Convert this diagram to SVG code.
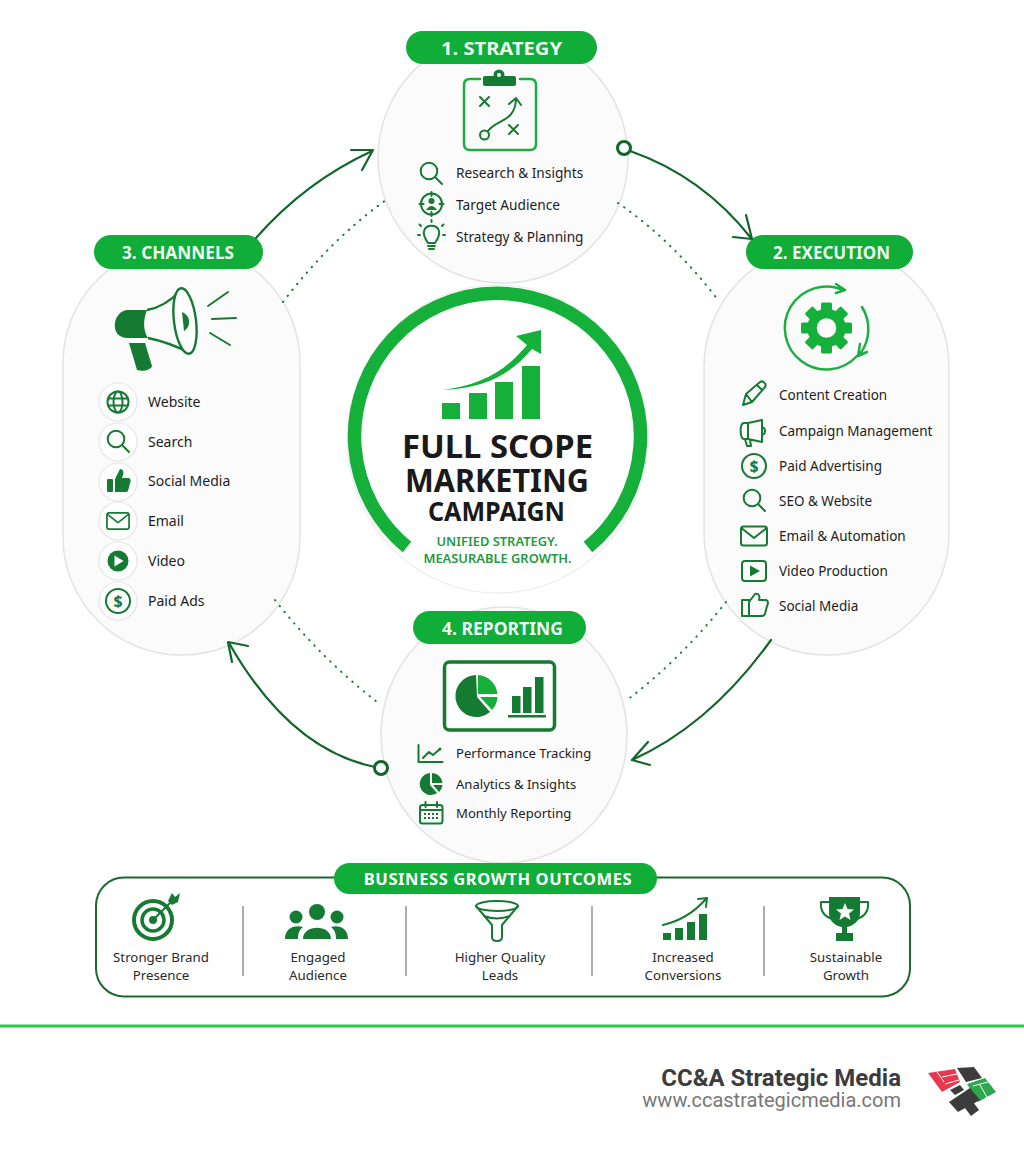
<svg xmlns="http://www.w3.org/2000/svg" width="1024" height="1154" viewBox="0 0 1024 1154">
<style>
text{font-family:"Noto Sans","Liberation Sans",sans-serif;fill:#1d1d1d}
.item{font-size:13.5px}
.st{font-size:13.7px}
.rep{font-size:13.1px}
.ch{font-size:14px}
.out{font-size:13.3px;text-anchor:middle;fill:#2a2a2a}
.pilltxt{font-size:18.5px;font-weight:700;fill:#fff;text-anchor:middle;fill-opacity:.95}
.pill{fill:#10ae38}
.card{fill:#fbfbfb;stroke:#e3e3e3;stroke-width:1.5}
.d{fill:none;stroke:#157a32;stroke-width:2;stroke-linecap:round;stroke-linejoin:round}
.b{fill:none;stroke:#1cae40;stroke-width:2.5;stroke-linecap:round;stroke-linejoin:round}
.df{fill:#157a32}
.bf{fill:#14b03a}
.ic{fill:#fff;stroke:#e6e6e6;stroke-width:1.2}
.conn{fill:none;stroke:#11662b;stroke-width:2.2;stroke-linecap:round;stroke-linejoin:round}
.dot{fill:none;stroke:#1c7a36;stroke-width:2;stroke-linecap:round;stroke-dasharray:.5 7}
.ttl{font-weight:700;text-anchor:middle;fill:#1a1a1a}
.tag{font-size:12.9px;font-weight:600;text-anchor:middle;fill:#1f9a3c}
.sep{stroke:#8a8a8a;stroke-width:1.4}
.lg{fill:#3c3c3c}
</style>
<defs>
<g id="mag"><circle cx="-2" cy="-2" r="8.3" class="d"/><path d="M4 4L11 11" class="d" stroke-width="3"/></g>
<g id="env"><rect x="-13" y="-9.5" width="26" height="19" rx="2.5" class="d"/><path d="M-12-7.5L0 2L12-7.5" class="d"/></g>
<g id="dol"><circle r="12" class="d"/><text y="5.5" text-anchor="middle" style="font-size:16px;font-weight:700;fill:#157a32">$</text></g>
<g id="thumb"><rect x="-11" y="-3" width="6" height="13" rx="1" class="df"/><path d="M-3-3L2-13C5-13 6-10 5-7L4-4H11C13-3 13 0 12 1L10 9C9 10 8 10 7 10H-3Z" class="df"/></g>
<g id="gearT"><rect x="-5.5" y="-25.5" width="11" height="12" rx="1.5" class="bf"/></g>
</defs>
<rect width="1024" height="1154" fill="#fff"/>

<g id="node-strategy">
<circle class="card" cx="503" cy="158" r="125"/>
<rect class="pill" x="406" y="31" width="191" height="33" rx="16.5"/>
<text class="pilltxt" x="501.500" y="55" textLength="121" lengthAdjust="spacingAndGlyphs">1. STRATEGY</text>
<path class="b" d="M480 79H470Q464 79 464 85V144Q464 150 470 150H530Q536 150 536 144V85Q536 79 530 79H520"/>
<rect class="df" x="483" y="76" width="33" height="10" rx="2"/><circle class="df" cx="499" cy="75" r="5.5"/><circle cx="499" cy="75" r="2" fill="#fff"/>
<path class="d" d="M480 97L489 106M489 97L480 106M509 125L518 134M518 125L509 134" stroke-width="2.8"/>
<circle class="d" cx="484.500" cy="135" r="4.500" stroke-width="2.400"/>
<path class="d" d="M488 131C496 119 515 123 516 99M509 104L516 98L521 105" stroke-width="2.400"/>
<use href="#mag" x="431" y="173"/>
<text class="st" x="456" y="178">Research &amp; Insights</text>
<circle class="d" cx="431.500" cy="204" r="10.500"/><path class="d" d="M431.500 192V196M431.500 212V216M419.500 204H423.500M439.500 204H443.500"/><circle class="df" cx="431.500" cy="201" r="3"/><path class="df" d="M426 210Q431.500 202 437 210Z"/>
<text class="st" x="456" y="210">Target Audience</text>
<path class="d" d="M428 243C424 237 423 234 424 231C426 224 437 224 439 231C440 234 439 237 435 243ZM428 246H435M429 249H434"/>
<path class="d" d="M431.500 222V220M421 226L419.500 224.500M442 226L443.500 224.500M418 235H420M443 235H445" stroke-width="1.600"/>
<text class="st" x="456" y="242">Strategy &amp; Planning</text>
</g>

<g id="node-execution">
<rect class="card" x="704" y="245" width="245" height="410" rx="122"/>
<rect class="pill" x="746" y="235" width="167" height="34" rx="17"/>
<text class="pilltxt" x="831.500" y="259" textLength="117" lengthAdjust="spacingAndGlyphs">2. EXECUTION</text>
<path class="b" d="M857 356A41.500 41.500 0 1 1 844 290.500M836 284L845 290L836 293" stroke-width="2"/>
<path class="b" d="M862 307A41.500 41.500 0 0 1 860 354M860 344L858 356L867 352" stroke-width="2"/>
<g transform="translate(826.500 328)">
<use href="#gearT"/><use href="#gearT" transform="rotate(45)"/><use href="#gearT" transform="rotate(90)"/><use href="#gearT" transform="rotate(135)"/><use href="#gearT" transform="rotate(180)"/><use href="#gearT" transform="rotate(225)"/><use href="#gearT" transform="rotate(270)"/><use href="#gearT" transform="rotate(315)"/>
<circle r="14.500" fill="none" stroke="#14b03a" stroke-width="9.500"/>
</g>
<path class="d" d="M743 405L746 394L760 382C763 380 767 384 765 387L752 402ZM746 394L752 402M757 385L762 390"/>
<text class="item" x="779" y="400">Content Creation</text>
<path class="d" d="M748 423H744C739 423 740 439 744 439H748ZM748 423L762 420V442L748 439M762 427C766 428 766 434 762 435M745 439L747 446H751L750 440"/>
<text class="item" x="779" y="436">Campaign Management</text>
<use href="#dol" x="754" y="466"/>
<text class="item" x="779" y="471">Paid Advertising</text>
<use href="#mag" x="754" y="500"/>
<text class="item" x="779" y="506">SEO &amp; Website</text>
<use href="#env" x="754" y="536"/>
<text class="item" x="779" y="541">Email &amp; Automation</text>
<rect class="d" x="742" y="561" width="24" height="20" rx="3"/><path class="df" d="M750 565.500L760 571L750 576.500Z"/>
<text class="item" x="779" y="576">Video Production</text>
<path class="d" d="M742 600H749V616H742ZM749 602L755 594C759 593 760 596 759 600H766C769 601 768 604 767 606L765 614C764 616 762 616 761 616H749"/>
<text class="item" x="779" y="611">Social Media</text>
</g>

<g id="node-reporting">
<ellipse class="card" cx="504" cy="735" rx="123" ry="128"/>
<rect class="pill" x="413" y="611" width="173" height="33" rx="16.500"/>
<text class="pilltxt" x="502.500" y="635" textLength="121" lengthAdjust="spacingAndGlyphs">4. REPORTING</text>
<rect x="444.500" y="662" width="110" height="68" rx="5" fill="#fff" stroke="#157a32" stroke-width="3.500"/>
<path class="df" d="M476 675A21 21 0 1 0 490 712L477 697Z"/>
<path class="bf" d="M478 675A21 21 0 0 1 497.500 694H478Z"/>
<path class="bf" d="M480 697H497.500A21 21 0 0 1 492 710Z"/>
<rect class="df" x="512" y="696" width="8.500" height="17"/><rect class="df" x="523" y="687" width="8.500" height="26"/><rect class="df" x="535" y="677" width="8.500" height="36"/>
<rect class="df" x="508" y="715" width="38" height="2.500"/>
<path class="d" d="M418.500 745V762H442.500M423 758L429 752L433 755L440 749" stroke-width="1.800"/><circle class="df" cx="440" cy="749" r="1.500"/>
<path class="df" d="M430 773A11 11 0 1 0 437 793L430 785Z"/><path class="df" d="M432 773A11 11 0 0 1 442.500 783H432Z"/><path class="df" d="M433 785H442.500A11 11 0 0 1 439 792Z"/>
<text class="rep" x="456" y="758">Performance Tracking</text>
<text class="rep" x="456" y="789">Analytics &amp; Insights</text>
<rect class="d" x="420" y="805" width="22.500" height="18.500" rx="2.500"/><path class="d" d="M420 810H442M425.500 802V807M437 802V807"/>
<path stroke="#157a32" stroke-width="2" stroke-dasharray="2 2" d="M424 814H439M424 818H439"/>
<text class="rep" x="456" y="818">Monthly Reporting</text>
</g>

<g id="node-channels">
<rect class="card" x="63" y="245" width="237" height="410" rx="118"/>
<rect class="pill" x="94" y="235" width="169" height="34" rx="17"/>
<text class="pilltxt" x="178" y="259" textLength="112" lengthAdjust="spacingAndGlyphs">3. CHANNELS</text>
<path class="df" d="M147 310H128C113 310 108 338 128 338H148C143 330 143 320 147 310Z"/>
<path class="df" d="M129 343H145L152 366C151 370 143 372 137 370Z"/>
<path fill="none" stroke="#157a32" stroke-width="2.400" d="M147 310Q165 307 181 290M148 338Q168 342 190 353"/>
<ellipse cx="185" cy="321" rx="11" ry="33" transform="rotate(-7 185 321)" fill="#fff" stroke="#157a32" stroke-width="2.400"/>
<path class="df" d="M182 312C190 315 192 326 184 331Z"/>
<path class="d" d="M208 306L228 292M212 319L236 318M210 333L230 345" stroke-width="3"/>
<g id="c-web"><circle class="ic" cx="118" cy="402" r="19"/><circle class="d" cx="118" cy="402" r="10.500"/><ellipse class="d" cx="118" cy="402" rx="4.500" ry="10.500" stroke-width="1.500"/><path class="d" d="M108 398.500H128M108 405.500H128" stroke-width="1.500"/></g>
<text class="ch" x="148" y="407">Website</text>
<circle class="ic" cx="118" cy="442" r="19"/><use href="#mag" x="118" y="441"/>
<text class="ch" x="148" y="447">Search</text>
<circle class="ic" cx="118" cy="482" r="19"/><use href="#thumb" x="118" y="482"/>
<text class="ch" x="148" y="486">Social Media</text>
<circle class="ic" cx="118" cy="521" r="19"/><g transform="translate(118 521) scale(.85)"><use href="#env"/></g>
<text class="ch" x="148" y="526">Email</text>
<circle class="ic" cx="118" cy="561" r="19"/><circle class="df" cx="118" cy="561" r="10.500"/><path d="M114.500 555.500L123.500 561L114.500 566.500Z" fill="#fff"/>
<text class="ch" x="148" y="566">Video</text>
<circle class="ic" cx="118" cy="601" r="19"/><use href="#dol" x="118" y="601"/>
<text class="ch" x="148" y="606">Paid Ads</text>
</g>

<g id="connectors">
<path class="dot" d="M283 302Q330 240 386 200"/>
<path class="dot" d="M618 203Q672 240 718 300"/>
<path class="dot" d="M726 602Q680 660 627 700"/>
<path class="dot" d="M275 600Q322 660 381 705"/>
<path class="conn" d="M630 151Q702 176 751 238"/>
<path class="conn" d="M733 237L752 239L746 215"/>
<circle cx="624" cy="148" r="6.5" fill="#fff" stroke="#11662b" stroke-width="3"/>
<path class="conn" d="M771 640Q710 725 632 760"/>
<path class="conn" d="M648 742L632 760L650 765"/>
<path class="conn" d="M375 767Q290 750 229 643"/>
<path class="conn" d="M248 646L228 642L232 662"/>
<circle cx="381" cy="768" r="6.5" fill="#fff" stroke="#11662b" stroke-width="3"/>
<path class="conn" d="M256 238Q305 182 372 151"/>
<path class="conn" d="M351 150L373 150L362 170"/>
</g>

<g id="node-center">
<ellipse cx="497.500" cy="439" rx="150" ry="154" fill="#fff" stroke="#ececec" stroke-width="1.200"/>
<path d="M407 547A143 143 0 1 1 588 547" fill="none" stroke="#14b03a" stroke-width="13.500"/>
<rect class="bf" x="442" y="403" width="18" height="16"/><rect class="bf" x="469" y="393" width="18" height="26"/><rect class="bf" x="495" y="382" width="18" height="37"/><rect class="bf" x="522" y="366" width="18" height="53"/>
<path class="bf" d="M443 390C480 385 505 372 527 345L516 336L541 330L541 354L532 349C510 375 485 388 443 390Z"/>
<text class="ttl" x="497.500" y="458" font-size="32" textLength="191" lengthAdjust="spacingAndGlyphs">FULL SCOPE</text>
<text class="ttl" x="497" y="492" font-size="32" textLength="184" lengthAdjust="spacingAndGlyphs">MARKETING</text>
<text class="ttl" x="496.500" y="521" font-size="27" textLength="137" lengthAdjust="spacingAndGlyphs">CAMPAIGN</text>
<text class="tag" x="497" y="546">UNIFIED STRATEGY.</text>
<text class="tag" x="497.500" y="563">MEASURABLE GROWTH.</text>
</g>

<g id="node-outcomes">
<rect x="96" y="877.500" width="814" height="119" rx="28" fill="#fff" stroke="#1a6a30" stroke-width="2"/>
<rect class="pill" x="334" y="863" width="323" height="31" rx="15.500"/>
<text x="498" y="885" style="font-size:16.500px;font-weight:700;fill:#fff;text-anchor:middle;letter-spacing:.6px">BUSINESS GROWTH OUTCOMES</text>
<path class="sep" d="M243 906V976M406 906V976M592 906V976M764 906V976"/>
<g id="o-target"><circle cx="153" cy="920" r="19" fill="none" stroke="#157a32" stroke-width="4"/><circle cx="153" cy="920" r="11" fill="none" stroke="#157a32" stroke-width="3.500"/><circle class="df" cx="153" cy="920" r="4"/><path class="d" d="M153 920L172 901" stroke-width="2.500"/><path class="df" d="M168 901L172 893L175 897L180 893L178 902L172 905Z"/></g>
<text class="out" x="161" y="962">Stronger Brand</text><text class="out" x="161" y="980">Presence</text>
<g id="o-people"><circle class="df" cx="317" cy="912" r="8"/><circle class="df" cx="296" cy="917" r="6.500"/><circle class="df" cx="337" cy="917" r="6.500"/><path class="df" d="M303 939C303 924 331 924 331 939ZM285 939C285 926 297 925 303 927C299 930 298 934 298 939ZM348 939C348 926 336 925 331 927C335 930 336 934 336 939Z"/></g>
<text class="out" x="318" y="962">Engaged</text><text class="out" x="318" y="980">Audience</text>
<g id="o-funnel"><ellipse class="d" cx="497" cy="906" rx="21" ry="5"/><path class="d" d="M476 906L492 925V937Q492 941 497 941Q502 941 502 937V925L518 906M484 916Q497 921 510 916"/></g>
<text class="out" x="500" y="962">Higher Quality</text><text class="out" x="500" y="980">Leads</text>
<g id="o-bars"><rect class="df" x="663" y="933" width="8" height="7"/><rect class="df" x="675" y="928" width="8" height="12"/><rect class="df" x="687" y="922" width="8" height="18"/><rect class="df" x="699" y="914" width="8" height="26"/><path class="d" d="M663 925Q688 919 705 900M698 899L707 898L706 907"/></g>
<text class="out" x="683" y="962">Increased</text><text class="out" x="683" y="980">Conversions</text>
<g id="o-trophy"><path class="df" d="M829 897H860V913C860 922 852 926 847 927V933H853V941H836V933H842V927C836 926 829 922 829 913Z"/><path class="d" d="M829 902H821C820 912 826 917 832 919M860 902H868C869 912 863 917 857 919" stroke-width="2.500"/><path d="M845 903L847.500 909L854 909.500L849 913.500L850.500 920L845 916.500L839.500 920L841 913.500L836 909.500L842.500 909Z" fill="#fff"/></g>
<text class="out" x="846" y="962">Sustainable</text><text class="out" x="846" y="980">Growth</text>
</g>

<rect x="0" y="1024.500" width="1024" height="3" fill="#1fcc42"/>
<g id="footer">
<text x="901" y="1086" style="font-family:Roboto,'Liberation Sans',sans-serif;font-size:24px;font-weight:700;fill:#3c3c3c;text-anchor:end">CC&amp;A Strategic Media</text>
<text x="901" y="1107" style="font-family:Roboto,'Liberation Sans',sans-serif;font-size:20px;fill:#777;text-anchor:end">www.ccastrategicmedia.com</text>
<path fill="#e8384f" d="M928 1073L955 1069L960 1082L942 1092Z"/>
<path stroke="#fff" stroke-width="1" d="M937 1072L944 1082M942 1077L957 1074M945 1084L959 1080"/>
<path class="lg" d="M957 1068L974 1067L982 1078L966 1082Z"/>
<path fill="#2ea84f" d="M967 1084L985 1078L996 1092L978 1102Z"/>
<path stroke="#fff" stroke-width="1" d="M973 1086L988 1082M980 1085L988 1099"/>
<path class="lg" d="M950 1090L960 1085L964 1090L955 1095Z"/>
<path class="lg" d="M949 1102L970 1088L980 1100L958 1112Z"/>
<path class="lg" d="M965 1108L973 1102L979 1110L971 1116Z"/>
</g>
</svg>
